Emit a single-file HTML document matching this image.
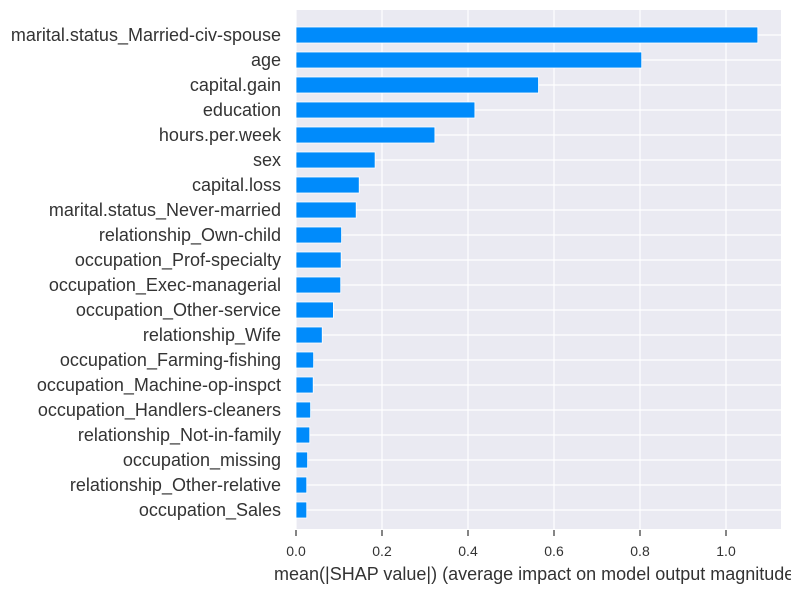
<!DOCTYPE html>
<html><head><meta charset="utf-8"><style>
html,body{margin:0;padding:0;background:#fff;}
svg{display:block;font-family:"Liberation Sans",Arial,sans-serif;}
</style></head><body>
<svg id="chart" width="791" height="591"></svg>
<script>
const features = ["marital.status_Married-civ-spouse","age","capital.gain","education","hours.per.week","sex","capital.loss","marital.status_Never-married","relationship_Own-child","occupation_Prof-specialty","occupation_Exec-managerial","occupation_Other-service","relationship_Wife","occupation_Farming-fishing","occupation_Machine-op-inspct","occupation_Handlers-cleaners","relationship_Not-in-family","occupation_missing","relationship_Other-relative","occupation_Sales"];
const values = [1.074,0.804,0.564,0.416,0.323,0.184,0.147,0.140,0.106,0.105,0.104,0.087,0.061,0.041,0.040,0.034,0.032,0.027,0.025,0.025];
const ticks = [0.0,0.2,0.4,0.6,0.8,1.0];
const tickLabels = ["0.0","0.2","0.4","0.6","0.8","1.0"];

const NS="http://www.w3.org/2000/svg";
const svg=document.getElementById('chart');
const L=296,R=781,T=10,B=529;
const xMax=(R-L)/430;
const x=v=>L+v/xMax*(R-L);
const y=i=>35+25*i;
function mk(tag,attrs,parent){const e=document.createElementNS(NS,tag);for(const k in attrs)e.setAttribute(k,attrs[k]);(parent||svg).appendChild(e);return e;}

const bg=mk('rect',{x:L,y:T,width:R-L,height:B-T,fill:'#eaeaf2'});


ticks.forEach((t,i)=>{
  const g=mk('line',{x1:x(t),x2:x(t),y1:T,y2:B,stroke:'#fff','stroke-width':1.2});
  
  
  const tk=mk('line',{x1:x(t),x2:x(t),y1:B+1,y2:B+7,stroke:'#333','stroke-width':1.2});
  
  
  const tl=mk('text',{x:x(t),y:B+27,'text-anchor':'middle','font-size':14,fill:'#333'});
  tl.textContent=tickLabels[i];
  
  
});
features.forEach((f,i)=>{
  const g=mk('line',{x1:L,x2:R,y1:y(i),y2:y(i),stroke:'#fff','stroke-width':1.2});
  
  
});
features.forEach((f,i)=>{
  const b=mk('rect',{x:L,y:y(i)-8,width:x(values[i])-L,height:16,fill:'#008bfb',stroke:'#fff','stroke-width':0.8});
  
  
  const t=mk('text',{x:281,y:y(i)+6,'text-anchor':'end','font-size':18,fill:'#333'});
  t.textContent=f;
  
  
});
const xt=mk('text',{x:274,y:580,'text-anchor':'start','font-size':18,fill:'#333'});
xt.textContent='mean(|SHAP value|) (average impact on model output magnitude)';


</script>
</body></html>
